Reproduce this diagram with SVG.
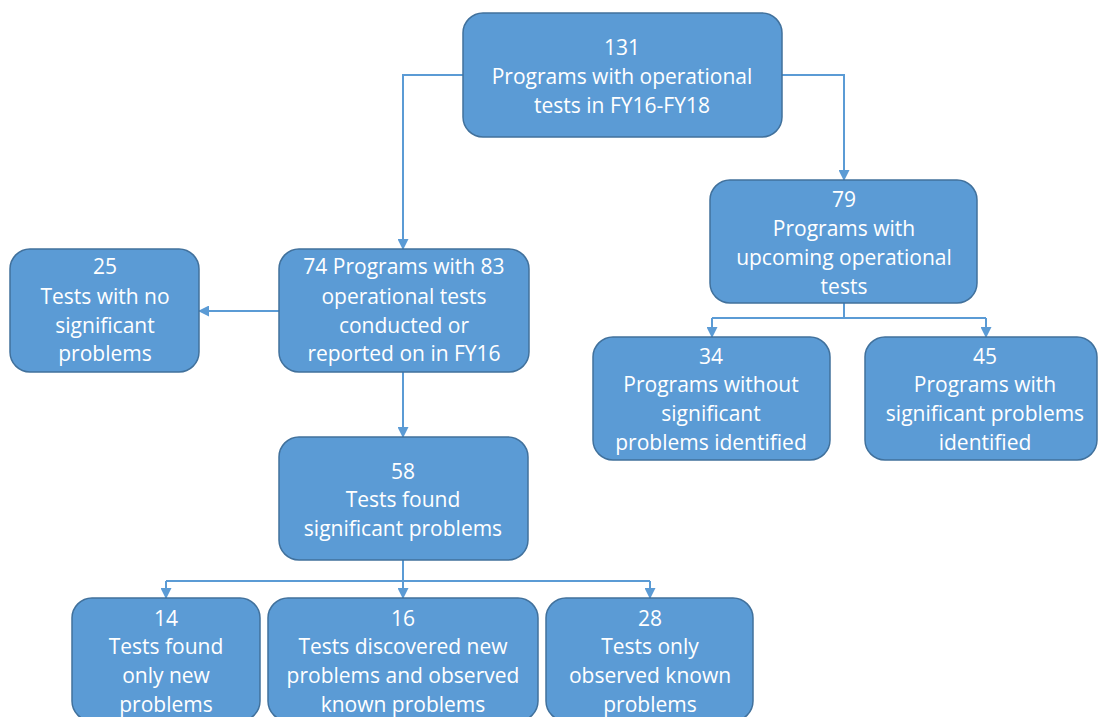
<svg xmlns="http://www.w3.org/2000/svg" width="1098" height="717" viewBox="0 0 1098 717">
<defs>
<marker id="arr" markerWidth="11" markerHeight="11" refX="10" refY="5.5" orient="auto" markerUnits="userSpaceOnUse">
<path d="M0,0 L11,5.5 L0,11 Z" fill="#5B9BD5"/>
</marker>
<style>
.box{fill:#5B9BD5;stroke:#41719C;stroke-width:1.5}
.t{font-family:"Open Sans","Liberation Sans",sans-serif;font-size:21px;fill:#FFFFFF;text-anchor:middle}
.c{fill:none;stroke:#5B9BD5;stroke-width:2}
</style>
</defs>
<rect width="1098" height="717" fill="#FFFFFF"/>
<g id="connectors">
<path class="c" d="M463,75 H403 V249" marker-end="url(#arr)"/>
<path class="c" d="M782,75 H844 V180" marker-end="url(#arr)"/>
<path class="c" d="M279,311 H199" marker-end="url(#arr)"/>
<path class="c" d="M403,372 V437" marker-end="url(#arr)"/>
<path class="c" d="M844,303 V318"/>
<path class="c" d="M712,318 H986"/>
<path class="c" d="M712,318 V337" marker-end="url(#arr)"/>
<path class="c" d="M986,318 V337" marker-end="url(#arr)"/>
<path class="c" d="M403,560 V581"/>
<path class="c" d="M166,581 H650"/>
<path class="c" d="M166,581 V598" marker-end="url(#arr)"/>
<path class="c" d="M403,581 V598" marker-end="url(#arr)"/>
<path class="c" d="M650,581 V598" marker-end="url(#arr)"/>
</g>
<g id="n131">
<rect class="box" x="463" y="13" width="319" height="124" rx="20"/>
<text class="t" x="622" y="55">131</text>
<text class="t" x="622" y="84">Programs with operational</text>
<text class="t" x="622" y="113">tests in FY16-FY18</text>
</g>
<g id="n79">
<rect class="box" x="710" y="180" width="267" height="123" rx="20"/>
<text class="t" x="844" y="207">79</text>
<text class="t" x="844" y="236">Programs with</text>
<text class="t" x="844" y="265">upcoming operational</text>
<text class="t" x="844" y="294">tests</text>
</g>
<g id="n34">
<rect class="box" x="593" y="337" width="237" height="123" rx="20"/>
<text class="t" x="711" y="364">34</text>
<text class="t" x="711" y="392">Programs without</text>
<text class="t" x="711" y="421">significant</text>
<text class="t" x="711" y="450">problems identified</text>
</g>
<g id="n45">
<rect class="box" x="865" y="337" width="232" height="123" rx="20"/>
<text class="t" x="985" y="364">45</text>
<text class="t" x="985" y="392">Programs with</text>
<text class="t" x="985" y="421">significant problems</text>
<text class="t" x="985" y="450">identified</text>
</g>
<g id="n25">
<rect class="box" x="10" y="249" width="189" height="123" rx="20"/>
<text class="t" x="105" y="274">25</text>
<text class="t" x="105" y="304">Tests with no</text>
<text class="t" x="105" y="333">significant</text>
<text class="t" x="105" y="361">problems</text>
</g>
<g id="n74">
<rect class="box" x="279" y="249" width="250" height="123" rx="20"/>
<text class="t" x="404" y="274">74 Programs with 83</text>
<text class="t" x="404" y="304">operational tests</text>
<text class="t" x="404" y="333">conducted or</text>
<text class="t" x="404" y="361">reported on in FY16</text>
</g>
<g id="n58">
<rect class="box" x="279" y="437" width="249" height="123" rx="20"/>
<text class="t" x="403" y="479">58</text>
<text class="t" x="403" y="507">Tests found</text>
<text class="t" x="403" y="536">significant problems</text>
</g>
<g id="n14">
<rect class="box" x="72" y="598" width="188" height="123" rx="20"/>
<text class="t" x="166" y="626">14</text>
<text class="t" x="166" y="654">Tests found</text>
<text class="t" x="166" y="683">only new</text>
<text class="t" x="166" y="712">problems</text>
</g>
<g id="n16">
<rect class="box" x="268" y="598" width="270" height="123" rx="20"/>
<text class="t" x="403" y="626">16</text>
<text class="t" x="403" y="654">Tests discovered new</text>
<text class="t" x="403" y="683">problems and observed</text>
<text class="t" x="403" y="712">known problems</text>
</g>
<g id="n28">
<rect class="box" x="546" y="598" width="207" height="123" rx="20"/>
<text class="t" x="650" y="626">28</text>
<text class="t" x="650" y="654">Tests only</text>
<text class="t" x="650" y="683">observed known</text>
<text class="t" x="650" y="712">problems</text>
</g>
</svg>
